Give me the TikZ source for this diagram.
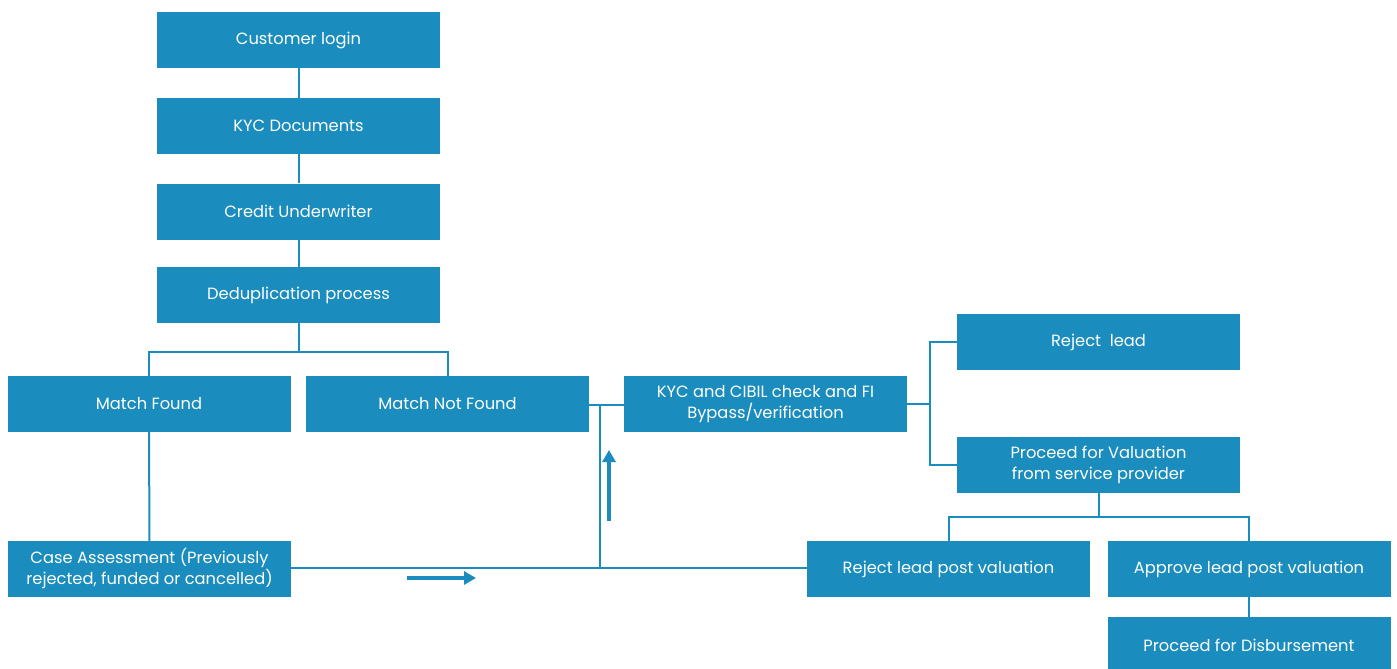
\documentclass[tikz,border=0pt]{standalone}
\usepackage{fontspec}
\setmainfont{Poppins}
\usetikzlibrary{arrows.meta}
\definecolor{boxblue}{HTML}{1A8DBE}
\tikzset{
  box/.style={fill=boxblue, draw=none, minimum width=283pt, minimum height=56pt, inner sep=2pt,
    text=white, font=\fontsize{16.3}{21}\selectfont, align=center},
  conn/.style={draw=boxblue, line width=2pt},
  bigarrow/.style={draw=boxblue, line width=4pt, -{Triangle[length=12pt,width=13pt]}}
}
\begin{document}
\begin{tikzpicture}[x=1pt,y=-1pt]
\useasboundingbox (0,0) rectangle (1397,669);
% nodes
\node[box] (cl) at (298.5,40) {Customer login};
\node[box] (kyc) at (298.5,126) {KYC Documents};
\node[box] (cu) at (298.5,211.5) {Credit Underwriter};
\node[box] (dd) at (298.5,295) {Deduplication process};
\node[box] (mf) at (149,404) {Match Found};
\node[box] (mnf) at (447.5,404) {Match Not Found};
\node[box] (ca) at (149.5,569) {Case Assessment (Previously\\rejected, funded or cancelled)};
\node[box] (kc) at (765.5,404) {KYC and CIBIL check and FI\\Bypass/verification};
\node[box] (rl) at (1098.5,342) {Reject\ \ lead};
\node[box] (pv) at (1098.5,465) {Proceed for Valuation\\from service provider};
\node[box] (rlp) at (948.5,569) {Reject lead post valuation};
\node[box] (alp) at (1249,569) {Approve lead post valuation};
\node[box] (pd) at (1249,645) {Proceed for Disbursement};
% coordinates
\coordinate (j1) at (600,405);
\coordinate (j2) at (600,568);
% connectors
\draw[conn] (cl) -- (kyc);
\draw[conn] (kyc) -- (cu);
\draw[conn] (cu) -- (dd);
\draw[conn] (dd.south) -- ++(0,29) -| (mf.north);
\draw[conn] (dd.south) -- ++(0,29) -| (mnf.north);
\draw[conn] (mf) -- (ca);
\draw[conn] (ca.east |- j2) -- (rlp.west |- j2);
\draw[conn] (mnf.east |- j1) -- (kc.west |- j1);
\draw[conn] (j2) -- (j1);
\draw[conn] (kc.east) -- ++(23,0) coordinate (j3);
\draw[conn] (j3) |- (rl.west);
\draw[conn] (j3) |- (pv.west);
\draw[conn] (pv.south) -- ++(0,24) -| (rlp.north);
\draw[conn] (pv.south) -- ++(0,24) -| (alp.north);
\draw[conn] (alp) -- (pd);
% decorative arrows
\coordinate (a1s) at (609,521);
\coordinate (a1e) at (609,450);
\coordinate (a2s) at (407,578);
\coordinate (a2e) at (476,578);
\draw[bigarrow] (a1s) -- (a1e);
\draw[bigarrow] (a2s) -- (a2e);
\end{tikzpicture}
\end{document}
